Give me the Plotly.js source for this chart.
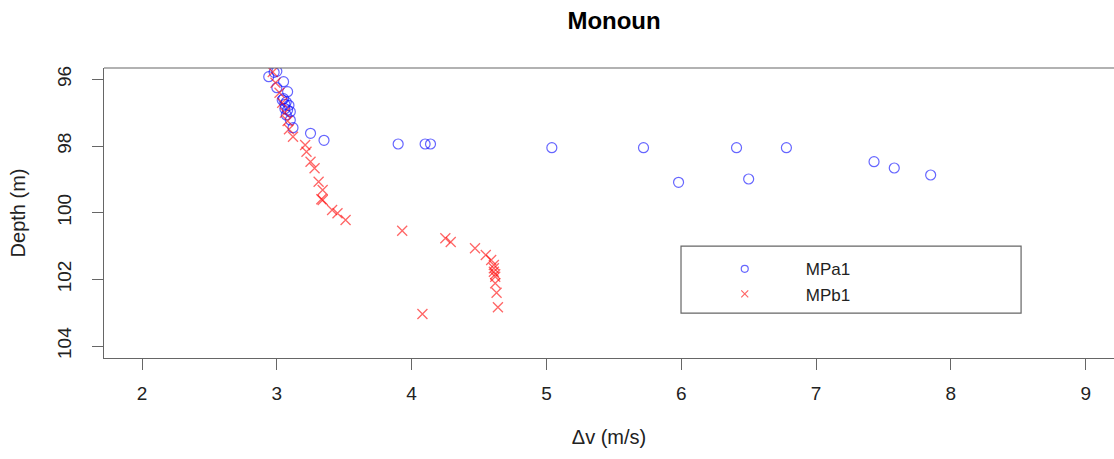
<!DOCTYPE html>
<html>
<head>
<meta charset="utf-8">
<script src="https://cdn.plot.ly/plotly-3.0.1.min.js"></script>
<style>html,body{margin:0;padding:0;background:#fff;}</style>
</head>
<body>
<div id="chart" style="width:1114px;height:459px;"></div>
<script>
// MPa1 (blue circles)
var mpa1_dv = [2.94, 2.98, 3.00, 3.05, 3.00, 3.08, 3.05, 3.04, 3.07, 3.06, 3.09, 3.06, 3.08, 3.10, 3.07, 3.10, 3.12, 3.25, 3.35, 3.90, 4.10, 4.14, 5.04, 5.72, 6.41, 6.78, 7.43, 7.58, 7.85, 6.50, 5.98];
var mpa1_depth = [95.92, 95.79, 95.76, 96.07, 96.25, 96.37, 96.58, 96.62, 96.68, 96.75, 96.78, 96.88, 96.92, 96.97, 97.07, 97.22, 97.45, 97.62, 97.83, 97.94, 97.94, 97.94, 98.05, 98.05, 98.05, 98.05, 98.47, 98.66, 98.87, 98.99, 99.09];
// MPb1 (red crosses)
var mpb1_dv = [2.97, 2.99, 3.02, 3.04, 3.06, 3.08, 3.09, 3.12, 3.21, 3.22, 3.25, 3.28, 3.31, 3.34, 3.33, 3.34, 3.41, 3.45, 3.51, 3.93, 4.25, 4.29, 4.47, 4.55, 4.59, 4.61, 4.61, 4.61, 4.62, 4.62, 4.62, 4.63, 4.64, 4.08];
var mpb1_depth = [95.78, 96.10, 96.40, 96.70, 97.00, 97.25, 97.50, 97.72, 97.97, 98.17, 98.47, 98.67, 99.07, 99.32, 99.60, 99.62, 99.92, 100.02, 100.22, 100.54, 100.77, 100.88, 101.07, 101.27, 101.42, 101.57, 101.67, 101.77, 101.85, 101.92, 102.12, 102.40, 102.84, 103.04];
var seriesNames = ["MPa1", "MPb1"];
var xTicks = [2, 3, 4, 5, 6, 7, 8, 9];
var yTicks = [96, 98, 100, 102, 104];

var FONT = "Liberation Sans, Arial, sans-serif";
var blue = "rgba(0,0,255,0.6)";
var red = "rgba(255,0,0,0.6)";

var traces = [
  {x: mpa1_dv, y: mpa1_depth, type: "scatter", mode: "markers", name: seriesNames[0], showlegend: false,
   marker: {symbol: "circle-open", size: 10, color: blue, line: {width: 1.2, color: blue}}},
  {x: mpb1_dv, y: mpb1_depth, type: "scatter", mode: "markers", name: seriesNames[1], showlegend: false,
   marker: {symbol: "x-thin-open", size: 10, color: red, line: {width: 1.3, color: red}}},
  {x: [null], y: [null], type: "scatter", mode: "markers", name: seriesNames[0], showlegend: true,
   marker: {symbol: "circle-open", size: 7, color: blue, line: {width: 1.2, color: blue}}},
  {x: [null], y: [null], type: "scatter", mode: "markers", name: seriesNames[1], showlegend: true,
   marker: {symbol: "x-thin-open", size: 7, color: red, line: {width: 1.2, color: red}}}
];

var layout = {
  width: 1114, height: 459,
  margin: {l: 104, r: 0, t: 68, b: 101},
  paper_bgcolor: "#fff", plot_bgcolor: "#fff",
  font: {family: FONT, size: 20, color: "#222"},
  title: {text: "Monoun", font: {family: FONT, size: 24, weight: "bold", color: "#000"},
          x: 0.505, xref: "paper", xanchor: "center", y: 0.956, yref: "container", yanchor: "middle"},
  xaxis: {range: [1.718, 9.21], tickvals: xTicks, ticktext: xTicks.map(String),
          showgrid: false, zeroline: false, showline: true, linecolor: "#666", linewidth: 1.2,
          ticks: "outside", ticklen: 11, tickcolor: "#666", tickwidth: 1, ticklabelstandoff: 7,
          tickfont: {family: FONT, size: 19, color: "#222"}, automargin: true,
          title: {text: "Δv (m/s)", standoff: 27, font: {family: FONT, size: 20, color: "#222"}}},
  yaxis: {range: [104.36, 95.66], tickvals: yTicks, ticktext: yTicks.map(String), tickangle: -90,
          showgrid: false, zeroline: false, showline: true, linecolor: "#666", linewidth: 1.2,
          ticks: "outside", ticklen: 11, tickcolor: "#666", tickwidth: 1, ticklabelstandoff: 13,
          tickfont: {family: FONT, size: 19, color: "#222"}, automargin: true,
          title: {text: "Depth (m)", standoff: 23, font: {family: FONT, size: 20, color: "#222"}}},
  shapes: [
    {type: "line", xref: "paper", yref: "paper", x0: 0, x1: 1, y0: 1, y1: 1, line: {color: "#666", width: 1.2}},
    {type: "rect", xref: "paper", yref: "paper", x0: 0.5713, x1: 0.908, y0: 0.155, y1: 0.386, line: {color: "#666", width: 1.2}}
  ],
  legend: {x: 0.574, xanchor: "left", y: 0.368, yanchor: "top", bgcolor: "rgba(0,0,0,0)", borderwidth: 0,
           itemwidth: 112, font: {family: FONT, size: 17, color: "#222"}, tracegroupgap: 0}
};

Plotly.newPlot("chart", traces, layout, {displayModeBar: false, staticPlot: true});
</script>
</body>
</html>
